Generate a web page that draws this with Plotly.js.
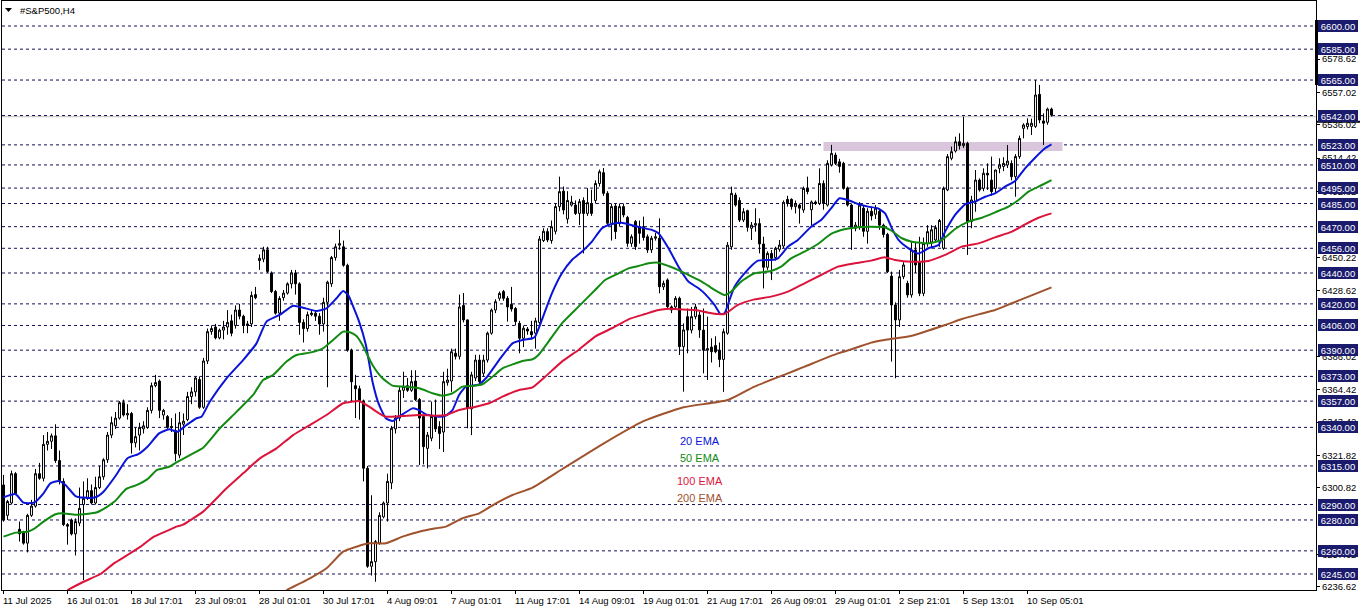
<!DOCTYPE html>
<html><head><meta charset="utf-8">
<script src="https://cdn.plot.ly/plotly-3.0.1.min.js"></script>
<style>html,body{margin:0;padding:0;background:#fff;}#chart{width:1362px;height:611px;}</style>
</head><body><div id="chart"></div>
<script>
// ---- data (H4 candles, bar index 0..262) ----
const openP = [
6302.7,6283,6291,6310,6274,6272.5,6265,6283,6289,6310,
6307,6329,6331,6334.5,6318.5,6305,6277,6280,6271,6278,
6290,6294,6299,6291,6301,6308,6319,6335,6341,6346,
6356,6348,6349,6330,6335,6339,6340,6351,6367,6370,
6348,6347,6340,6338,6322,6342,6345,6360,6363,6371,
6353,6383,6402,6405,6398,6403,6405,6409,6406,6416,
6412,6407,6407,6426,6448,6449,6455,6440,6428,6414,
6424,6427,6433,6440,6433,6408,6404,6413,6414,6412,
6407,6421,6433,6450,6458,6457,6445,6390,6367,6365,
6357,6313.5,6250,6253,6265,6282,6291,6304,6339,6346,
6364,6367,6364,6370,6358,6347,6326.4,6333,6347,6340.5,
6337,6369,6370,6388,6386,6419,6409.6,6352,6372,6383.6,
6375,6383.6,6401,6416,6423.6,6428,6423.6,6419.7,6417,6407.4,
6397.7,6403.7,6402,6401,6408,6461,6466.8,6461,6467,6483,
6493,6475,6484,6484,6478.6,6487,6478.6,6485,6487,6498,
6505,6491.6,6472.2,6483.4,6472,6483,6476,6459.2,6473.3,6470,
6470,6463.5,6455,6462.5,6462.5,6431,6435.5,6418,6418,6423.6,
6392.3,6411.7,6403,6411.7,6412.8,6403,6390,6392,6393,6390,
6384,6401,6457,6490.5,6487,6474.3,6480.4,6469,6471,6472,
6458.8,6443.7,6452.7,6450,6455.3,6457.5,6487.7,6487.7,6483,6484,
6480.8,6494.8,6481,6486,6485,6498,6484,6510,6516.4,6512,
6511,6495,6484,6469,6470,6482,6467,6480,6478,6480,
6471,6465,6438,6419.3,6409.6,6437.6,6433.3,6425.8,6454.9,6447,
6426.8,6459.2,6460,6461.4,6460,6456,6493.8,6514.3,6519,6525,
6522.5,6524,6473.3,6486.2,6500.2,6494.8,6504.6,6500.2,6494.8,6507.8,
6509,6510,6511,6502.4,6515.4,6533.7,6534.8,6535,6535,6555.7,
6538.5,6537.6,6546.2];
const highP = [
6309.2,6293,6312,6311,6279,6273,6284,6293,6313,6317,
6335,6337,6336,6342,6325,6307,6278,6281,6281,6301,
6305,6307,6303,6308,6315,6320,6337,6347,6350,6357,
6358,6355,6350,6340,6343,6344,6353,6369,6374,6371,
6352,6348,6346,6349,6350,6349,6363,6366,6373,6373,
6385,6404,6406,6407,6404,6409,6416,6413,6419,6420,
6413,6409,6428,6431,6452,6457,6457,6441,6429,6425,
6429,6434,6442,6442,6434,6410,6415,6416,6416,6414,
6424,6435,6451,6459,6468,6461,6446,6391,6374,6367,
6358,6315,6296,6267,6285,6292,6310,6341,6348,6366,
6376,6372,6377,6377,6359,6348,6337,6356.7,6358,6344,
6376,6378,6391,6391,6426,6427,6410,6376,6387,6387,
6387,6402,6417,6423,6428,6429,6425,6431,6418,6409,
6406,6405,6409,6411,6464,6469,6469,6474,6485,6502.4,
6496,6493,6490,6487,6488,6489,6495,6494,6500,6507,
6508,6493,6485,6485,6485,6485,6477,6465,6474.3,6474,
6476.5,6465,6464,6466,6475.4,6435,6436.5,6419,6425,6424.7,
6407.4,6417,6418,6420,6415,6417,6411.7,6397.7,6399,6395,
6404,6460,6496,6492,6489,6482,6481,6473,6481.9,6475.4,
6463.5,6454,6454.9,6457,6461.4,6487,6490,6488.4,6487,6485,
6496,6502.4,6487,6487,6507.8,6500,6513,6523,6518,6514,
6512,6496,6485,6473,6486,6484,6482,6483,6484,6482,
6472,6466,6440.9,6421,6442,6447,6435,6460,6460,6463.5,
6463,6471,6471,6471,6475,6496,6517,6521.9,6528.3,6530.5,
6541.3,6525,6490,6506.7,6501.3,6507.8,6511,6515.4,6507,6514.3,
6515,6522.9,6513,6517,6529,6537,6540.2,6540,6565,6561.8,
6543.4,6547.1,6547.1];
const lowP = [
6278.9,6280,6290,6296,6266,6264,6259,6282,6288,6306,
6305,6325,6326,6317,6303,6276,6264,6270,6257,6276,
6241,6293,6290,6290,6300,6306,6317,6333,6339,6345,
6347,6345,6323,6327,6325,6336,6339,6349,6366,6346,
6345,6339,6337,6318,6320,6335,6344,6355,6360,6352,
6352,6381,6400,6397,6397,6397,6400,6399,6404,6410,
6401,6401,6405,6423,6442,6447,6440,6427,6413,6409,
6422,6426,6430,6426,6400,6395,6402,6412,6409,6400,
6402,6366,6431,6448,6455,6444,6389,6357,6346,6345,
6305,6249,6244,6240,6264,6281,6279,6300,6336,6344,
6359,6363,6363,6357,6315.6,6316,6313.5,6331,6337,6326,
6324,6367,6363,6384,6384,6408,6339.4,6335,6370,6368,
6373,6382,6400,6414,6422,6422,6408.5,6415,6406,6388,
6392,6400,6397,6391,6407,6460,6460,6459,6465,6480,
6478,6472,6483,6477.6,6471,6452.7,6477,6477,6485,6496,
6490,6471,6461,6462,6470,6476,6457,6457,6455,6459,
6461,6453,6453,6461,6426.8,6429,6417,6414,6416,6386.9,
6363.1,6388,6400.9,6410,6398,6375,6370.7,6382,6388,6379,
6363,6400,6455,6483,6473,6473,6466.8,6461.4,6466.8,6452.7,
6430,6442,6435.4,6448,6453.8,6456,6483,6481,6478.6,6472,
6479,6491,6471,6484,6484,6481,6483,6509,6510,6505,
6494,6483,6455,6467,6468,6463.5,6459,6474,6475,6468,
6463,6440,6382.6,6371.8,6405,6436,6424,6424,6440,6425,
6425,6457,6456,6460,6457,6455,6493,6513,6518,6520,
6521,6451.7,6469,6479.7,6492.7,6493,6493.8,6490,6491.6,6504.6,
6506,6508,6500,6489.4,6514,6527.2,6533,6529.4,6534,6537,
6522.9,6536,6541.3];
const closeP = [
6280,6292,6310,6297,6271,6265,6283,6289,6310,6307,
6329,6331,6334.5,6318.5,6305,6277,6276,6271,6279,6287.5,
6294,6299,6291,6301,6308,6319,6335,6343,6346,6356,
6348,6349,6330,6334,6340,6341,6351,6367,6369,6351,
6351,6340,6340.5,6323,6343,6344,6360,6363,6372,6353,
6383,6402,6404,6398,6403,6405,6408,6401,6416,6412,
6406,6406,6425.5,6424,6449.5,6455,6441,6428,6414,6423.5,
6427,6433,6440,6433,6408,6404,6413,6414,6412,6407,
6421,6434,6450,6457,6459,6445,6390,6369.5,6365,6357,
6313.5,6250,6253,6266,6283,6291,6305,6339.4,6346,6364,
6366.4,6364,6369.6,6358,6346,6327.5,6335,6347,6339,6336,
6369.6,6370.7,6389,6386,6418,6409.6,6352.3,6374,6383.6,6369.6,
6383.6,6401,6416,6421.4,6426.8,6423.6,6418,6416.7,6408.5,6397.7,
6404.2,6402.4,6400,6409,6462,6467,6461.4,6470,6483,6492.7,
6480.8,6487,6486,6478.6,6486.2,6478.6,6485.6,6478.6,6498,6505.6,
6491.6,6472.2,6483,6466.8,6483,6477.6,6459.2,6463.5,6457.1,6465.7,
6463,6454.9,6462.5,6463.5,6431.1,6433.3,6418.2,6416,6423.6,6392.3,
6403.1,6403,6411.7,6418,6403.1,6390,6391,6389,6389,6384,
6402,6458,6491.6,6484,6474.3,6479.7,6469.6,6471,6472,6458.8,
6443.7,6452.7,6449.5,6456,6458.1,6485.8,6485,6483,6484.7,6482,
6494.8,6492.7,6486,6485,6498,6485,6511,6517.5,6511,6509,
6495,6484,6469.6,6471,6484,6467,6480,6477,6482,6471,
6465,6440.9,6419.3,6409.6,6437.6,6445.2,6425.8,6454.9,6445.2,6426.8,
6459.2,6466.8,6468,6469.4,6474,6494.8,6515.4,6518.6,6525,6522.5,
6524,6473.3,6487.3,6500.2,6493.8,6504.6,6503.5,6492.7,6506.7,6510,
6511,6512.5,6502.4,6515.4,6527.2,6535.9,6537,6537,6555.3,6539.1,
6537,6546.2,6542.3];

// EMA lines: [bar index, value]
const ema20 = [[0,6294.7],[3,6296.8],[5,6291.2],[7.6,6291.2],[10,6297.3],[11.7,6303.7],[13.8,6305.3],[15.5,6302.7],[18,6295.5],[20,6294.5],[23,6294.7],[25,6298.3],[28,6308.5],[31,6320],[33.7,6322.7],[36,6327.5],[38.9,6336.1],[41.4,6338.7],[43.5,6337.2],[45.75,6341.5],[48.25,6345.9],[49.5,6346.9],[51.6,6356.7],[55.75,6371.8],[59.9,6383.6],[63.25,6394.4],[65.75,6408.5],[69,6412.8],[72.4,6418.8],[74.9,6417.5],[78.25,6415.4],[80.75,6417.1],[83.25,6423.6],[84.9,6428.3],[86.2,6425.7],[87.25,6419.3],[88.9,6408.5],[90.6,6393.4],[92.25,6369.6],[93.9,6354.5],[95.6,6345.9],[97.25,6344.1],[98.9,6346.9],[102.25,6352.3],[103.9,6351.2],[105.6,6348.4],[108.9,6346.9],[110.6,6347.6],[112.25,6351.2],[113.9,6361],[115.6,6366.4],[117.25,6367],[118.9,6367.9],[120.6,6371.8],[123.9,6383.6],[127.25,6394.4],[129.75,6396.6],[132.25,6397.7],[132.9,6398.8],[134.6,6409.6],[137.1,6426.8],[139.6,6439.8],[142.1,6448.4],[144.6,6453.8],[147.1,6460.3],[149.6,6468.9],[152.1,6471.7],[154.6,6472.6],[157.1,6470.9],[159.6,6469.4],[162.1,6467.9],[163.75,6465.7],[166.25,6456],[168.75,6444.1],[171.25,6434.4],[173.75,6430.1],[175.25,6426.8],[177.75,6419.3],[179.25,6413.4],[180.25,6413.9],[181.5,6422.5],[182.75,6431.1],[185.25,6439.8],[188.6,6448],[191.9,6448.4],[193.6,6449.5],[196.1,6457],[198.6,6461.4],[201.9,6470],[204.4,6474.3],[206.9,6481.9],[209,6488.4],[211.1,6487.3],[213.6,6484.7],[216.1,6483],[218.6,6481.9],[220.4,6478.6],[222.1,6468.9],[223.75,6461.4],[226.25,6456],[228.75,6452.7],[231.25,6456],[233.75,6458.1],[235.4,6466.8],[237.9,6477.6],[240.4,6484.5],[242.9,6486.2],[245.4,6489.4],[247.9,6491.6],[250.4,6495.9],[252.9,6499.6],[255.4,6507.8],[257.9,6514.7],[260.4,6520.8],[262,6523.3]];
const ema50 = [[0,6269.2],[3,6271.8],[6,6272.4],[7.6,6274.2],[10,6278.9],[13,6283.7],[14.6,6284.3],[18,6283.4],[20.7,6283.9],[23.2,6284.8],[25.7,6288.2],[27.75,6291.9],[30.7,6300.1],[33.4,6302.7],[35.9,6306.3],[38.4,6312.4],[41.4,6314.5],[43.25,6317.3],[47.4,6323.2],[49.9,6326.8],[54.1,6339.4],[58.25,6350],[62.4,6361],[64.9,6370.7],[67.4,6373.9],[70.75,6382.6],[73.25,6386.9],[76.6,6388.4],[79.9,6391.2],[82.4,6396.6],[84.9,6402],[86.6,6401.6],[88.25,6399.2],[89.75,6393.4],[92.25,6380.4],[94.75,6371.8],[97.25,6367],[99.75,6366.4],[103.9,6365.3],[107.25,6362.1],[109.75,6360.5],[112.25,6362.1],[114.75,6366.4],[117.25,6366.8],[119.75,6367.9],[122.25,6372.8],[124.75,6378.2],[127.25,6380.8],[129.75,6383],[132.25,6384.1],[133.75,6386.9],[136.25,6395.5],[139.6,6407.4],[143.75,6418.2],[147.9,6429],[150.4,6435.5],[153.75,6439.8],[156.25,6443],[158.75,6444.5],[161.25,6446.3],[163.75,6446.7],[166.25,6444.5],[168.75,6441.9],[171.25,6438.7],[173.75,6435.5],[176.25,6431.6],[177.75,6429],[180.25,6425.7],[181.9,6427.9],[184.4,6434.4],[187.75,6439.8],[191.9,6441.3],[194.4,6444.1],[196.9,6449.5],[200.25,6453.8],[203.6,6458.8],[206.9,6465.3],[210.25,6468.3],[213.6,6469.6],[216.9,6470],[220.25,6469.6],[222.1,6467.2],[224.6,6462.5],[227.1,6460.3],[231.25,6459.2],[234.6,6461.4],[237.9,6468.5],[241.25,6473.3],[244.6,6475.8],[247.9,6479.3],[251.25,6483],[253.75,6487.3],[256.25,6492.7],[259.6,6497],[262,6500.2]];
const ema100 = [[16,6234.6],[20,6240],[24.25,6245],[27.6,6251.9],[31,6257.3],[34.25,6262.7],[37.6,6269.2],[41,6273.1],[43.25,6275.7],[44.75,6276.8],[49.9,6285.4],[55.75,6300.5],[59.9,6310.2],[64.1,6319.9],[68.25,6326.4],[72.4,6335],[76.6,6341.5],[80.75,6348],[84.9,6355.6],[87.25,6356.7],[88.9,6357.1],[91.4,6353.4],[93.9,6349.1],[95.6,6346.9],[99.75,6347.4],[103.9,6348],[108.1,6347.6],[110.6,6348],[113.9,6351.2],[118.1,6353.4],[121.4,6355.6],[124.75,6359.9],[128.9,6364.2],[131.25,6365.3],[132.25,6365.9],[135.4,6372.8],[139.6,6382.6],[143.75,6390.1],[147.9,6398.8],[152.1,6404.2],[156.25,6410],[160.4,6413.4],[163.75,6416],[166.25,6416.9],[168.75,6416.5],[172.9,6416],[176.25,6414.3],[178.6,6413.4],[180.25,6413.4],[183.6,6419.3],[187.75,6422.9],[191.9,6424.7],[196.1,6427.9],[200.25,6433.3],[204.4,6438.7],[208.6,6444.1],[212.75,6446.3],[216.9,6448],[220.25,6450.2],[222.9,6448.4],[227.1,6447.3],[231.25,6447.8],[235.4,6451.7],[239.6,6457.1],[243.75,6459.2],[247.9,6463.1],[252.1,6466.8],[255.4,6471.5],[258.75,6475.8],[262,6478.6]];
const ema200 = [[70.75,6234.6],[76.6,6242.2],[80.75,6248.7],[84.9,6259.5],[88.25,6262.7],[91.4,6264.9],[95.6,6264.9],[99.75,6269.2],[103.9,6272.4],[108.1,6274.6],[110.6,6275.7],[114.75,6281.1],[118.9,6284.3],[123.1,6290.8],[127.25,6296.2],[132.25,6301],[140,6313.5],[150,6329.5],[160,6344],[170,6353],[181.1,6357.7],[187.75,6366.4],[196.1,6375],[200.25,6379.3],[208.6,6387.9],[212.75,6391.2],[216.9,6394.9],[220.25,6396.6],[227.1,6399.4],[235.4,6406.3],[239.6,6410.2],[243.75,6413.2],[247.9,6416],[252.1,6420.4],[256.25,6424.7],[262,6430.7]];

const levelLines = [6600,6585,6565,6542,6523,6510,6495,6485,6470,6456,6440,6420,6406,6390,6373,6357,6340,6315,6290,6280,6260,6245];
const scaleTicks = [6578.62,6557.02,6536.02,6514.42,6492.82,6450.22,6428.62,6386.02,6364.42,6343.42,6321.82,6300.82,6257.62,6236.62];
const dateLabels = ["11 Jul 2025","16 Jul 01:01","18 Jul 17:01","23 Jul 09:01","28 Jul 01:01","30 Jul 17:01","4 Aug 09:01","7 Aug 01:01","11 Aug 17:01","14 Aug 09:01","19 Aug 01:01","21 Aug 17:01","26 Aug 09:01","29 Aug 01:01","2 Sep 21:01","5 Sep 13:01","10 Sep 05:01"];
const dateIdx = [0,16,32,48,64,80,96,112,128,144,160,176,192,208,224,240,256];
const zoneLow = 6519.0, zoneHigh = 6524.9, zoneStart = 205, zoneEnd = 264.75;
const bidPrice = 6541.25;
const emaNames = ["20 EMA","50 EMA","100 EMA","200 EMA"];

// ---- layout constants (pixels) ----
const W = 1362, H = 611, ML = 2, MR = 46, MT = 1, MB = 21;
const PW = W - ML - MR, PH = H - MT - MB;
const px2x = p => (p - ML) / PW;
const py2y = p => (H - MB - p) / PH;
const FONT = 'Liberation Sans, Arial, sans-serif';
const NAVY = '#1b1b6e';
const X0 = -0.375;   // places candle centres on half pixels -> crisp 1px lines

const idx = openP.map((_, i) => i);
const traces = [{
  type: 'candlestick', x: idx, open: openP, high: highP, low: lowP, close: closeP,
  increasing: {line: {color: '#000', width: 1}, fillcolor: '#fff'},
  decreasing: {line: {color: '#000', width: 1}, fillcolor: '#000'},
  whiskerwidth: 0, hoverinfo: 'skip', showlegend: false
}];
const emaColors = ['#0a14d8', '#118a11', '#dc143c', '#a0522d'];
[ema20, ema50, ema100, ema200].forEach((e, k) => {
  traces.push({type: 'scatter', mode: 'lines', x: e.map(p => p[0]), y: e.map(p => p[1]),
    line: {color: emaColors[k], width: 2, shape: 'spline', smoothing: 0.5},
    hoverinfo: 'skip', showlegend: false, cliponaxis: true});
});

const shapes = [];
shapes.push({type: 'rect', xref: 'x', yref: 'y', x0: zoneStart, x1: zoneEnd, y0: zoneLow, y1: zoneHigh,
  fillcolor: '#d9c6dc', line: {width: 0}, layer: 'below'});
shapes.push({type: 'line', xref: 'paper', yref: 'y', x0: 0, x1: 1, y0: bidPrice, y1: bidPrice,
  line: {color: '#c0c0c0', width: 1}, layer: 'below'});
levelLines.forEach(v => shapes.push({type: 'line', xref: 'paper', yref: 'y', x0: 0, x1: px2x(1313), y0: v, y1: v,
  line: {color: '#10105e', width: 1, dash: '3px,3px'}, layer: 'below'}));
// scale markers on right axis
shapes.push({type: 'line', xref: 'paper', yref: 'paper', x0: px2x(1316.5), x1: px2x(1316.5), y0: py2y(85), y1: py2y(20),
  line: {color: '#000', width: 3}});
shapes.push({type: 'line', xref: 'paper', yref: 'paper', x0: px2x(1316), x1: px2x(1360), y0: py2y(121.8), y1: py2y(121.8),
  line: {color: '#000', width: 2}});
// small triangle before the title
shapes.push({type: 'path', xref: 'paper', yref: 'paper',
  path: `M ${px2x(5)},${py2y(8)} L ${px2x(12)},${py2y(8)} L ${px2x(8.5)},${py2y(12)} Z`,
  fillcolor: '#000', line: {width: 0}});

const annotations = [];
annotations.push({xref: 'paper', yref: 'paper', x: px2x(20), y: py2y(10), xanchor: 'left', yanchor: 'middle',
  text: '#S&P500,H4', showarrow: false, font: {family: FONT, size: 9.5, color: '#000'}, borderpad: 0, borderwidth: 0});
dateLabels.forEach((t, k) => annotations.push({xref: 'x', yref: 'paper', x: dateIdx[k] - 0.1, y: py2y(600),
  xanchor: 'left', yanchor: 'middle', text: t, showarrow: false, font: {family: FONT, size: 9.5, color: '#000'},
  borderpad: 0, borderwidth: 0}));
levelLines.forEach(v => annotations.push({xref: 'paper', yref: 'y', x: px2x(1318), y: v, xanchor: 'left', yanchor: 'middle',
  text: v.toFixed(2), showarrow: false, font: {family: FONT, size: 9.5, color: '#fff'},
  bgcolor: NAVY, borderpad: 1, borderwidth: 0, width: 38, height: 10, align: 'center'}));
const legY = [441, 458, 481, 498];
emaNames.forEach((t, k) => annotations.push({xref: 'paper', yref: 'paper', x: px2x(699.5), y: py2y(legY[k]),
  xanchor: 'center', yanchor: 'middle', text: t, showarrow: false,
  font: {family: FONT, size: 11, color: emaColors[k]}, borderpad: 0, borderwidth: 0}));

const layout = {
  width: W, height: H, margin: {l: ML, r: MR, t: MT, b: MB, pad: 0},
  paper_bgcolor: '#fff', plot_bgcolor: '#fff', showlegend: false,
  boxgap: 0.3, boxgroupgap: 0.3,
  xaxis: {range: [X0, X0 + PW / 4], showgrid: false, zeroline: false, showline: true, mirror: true,
    linecolor: '#000', linewidth: 1, ticks: 'outside', ticklen: 3, tickcolor: '#000', tickvals: dateIdx,
    showticklabels: false, rangeslider: {visible: false}, fixedrange: true},
  yaxis: {side: 'right', range: [6234.64, 6616.2], showgrid: false, zeroline: false, showline: true, mirror: true,
    linecolor: '#000', linewidth: 1, ticks: 'outside', ticklen: 3, tickcolor: '#000',
    tickvals: scaleTicks, ticktext: scaleTicks.map(v => v.toFixed(2)),
    tickfont: {family: FONT, size: 9.5, color: '#000'}, fixedrange: true},
  shapes: shapes, annotations: annotations
};
Plotly.newPlot('chart', traces, layout, {staticPlot: true, displayModeBar: false});
</script>
</body></html>
